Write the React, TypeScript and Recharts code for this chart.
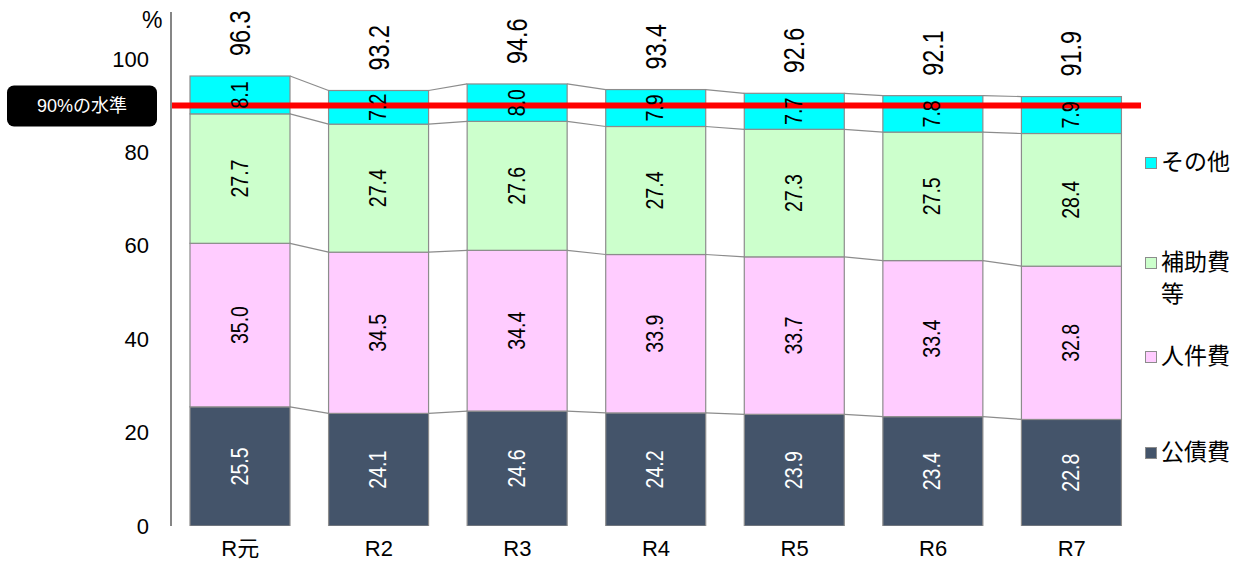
import React from "react";
import {
  BarChart,
  Bar,
  XAxis,
  YAxis,
  ReferenceLine,
  LabelList,
} from "recharts";

const categories = ["R元", "R2", "R3", "R4", "R5", "R6", "R7"];
const kousaihi = [25.5, 24.1, 24.6, 24.2, 23.9, 23.4, 22.8];
const jinkenhi = [35.0, 34.5, 34.4, 33.9, 33.7, 33.4, 32.8];
const hojohi = [27.7, 27.4, 27.6, 27.4, 27.3, 27.5, 28.4];
const sonota = [8.1, 7.2, 8.0, 7.9, 7.7, 7.8, 7.9];
const totals = [96.3, 93.2, 94.6, 93.4, 92.6, 92.1, 91.9];
const yTicks = [0, 20, 40, 60, 80, 100];
const threshold = 90;
const thresholdLabel = "90%の水準";

const series = [
  { key: "kousaihi", name: "公債費", values: kousaihi, fill: "#44546A", text: "#ffffff" },
  { key: "jinkenhi", name: "人件費", values: jinkenhi, fill: "#FFCCFF", text: "#000000" },
  { key: "hojohi", name: "補助費等", values: hojohi, fill: "#CCFFCC", text: "#000000" },
  { key: "sonota", name: "その他", values: sonota, fill: "#00FFFF", text: "#000000" },
];

const data = categories.map((c, i) => {
  const row: Record<string, string | number> = { cat: c };
  series.forEach((s) => (row[s.key] = s.values[i]));
  return row;
});

const W = 1251;
const H = 566;
const M = { top: 12, right: 110, bottom: 10, left: 111 };
const Y_AXIS_W = 60;
const STEP = (W - M.left - M.right - Y_AXIS_W) / categories.length;
const FONT = "'Liberation Sans', Arial, 'Noto Sans CJK JP', sans-serif";
const BORDER = "#8c8c8c";

// bar with a connector ("series line") to the next bar's segment top
const makeShape = (si: number) => (props: any) => {
  const { x, y, width, height, index, fill } = props;
  const vals = series[si].values;
  const below = series.slice(0, si).reduce((a, s) => a + s.values[index], 0);
  const pxPer = height / vals[index];
  const bottom = y + height;
  let connector = null;
  if (index < categories.length - 1) {
    const nextTop = series.slice(0, si + 1).reduce((a, s) => a + s.values[index + 1], 0);
    const ny = bottom - (nextTop - below) * pxPer;
    connector = (
      <line x1={x + width} y1={y} x2={x + STEP} y2={ny} stroke={BORDER} strokeWidth={1.2} />
    );
  }
  return (
    <g>
      <rect x={x} y={y} width={width} height={height} fill={fill} stroke={BORDER} strokeWidth={1.2} />
      {connector}
    </g>
  );
};

const segLabel = (si: number) => (p: any) => {
  const { x, y, width, height, index } = p;
  const cx = x + width / 2;
  const cy = y + height / 2;
  return (
    <text
      transform={`translate(${cx},${cy}) rotate(-90) scale(0.85,1)`}
      textAnchor="middle"
      dominantBaseline="central"
      fontSize={23}
      fill={series[si].text}
      fontFamily={FONT}
    >
      {series[si].values[index].toFixed(1)}
    </text>
  );
};

const totalLabel = (p: any) => {
  const { x, y, width, index } = p;
  const cx = x + width / 2;
  return (
    <text
      transform={`translate(${cx},${y - 20}) rotate(-90) scale(0.78,1)`}
      textAnchor="start"
      dominantBaseline="central"
      fontSize={30}
      fill="#000"
      fontFamily={FONT}
    >
      {totals[index].toFixed(1)}
    </text>
  );
};

const ThresholdLabel = (p: any) => {
  const vb = p.viewBox || {};
  const bx = vb.x - 164;
  const by = vb.y - 20;
  return (
    <g>
      <rect x={bx} y={by} width={150} height={41} rx={7} fill="#000" />
      <text x={bx + 75} y={by + 21} textAnchor="middle" dominantBaseline="central" fontSize={18} fill="#fff" fontFamily={FONT}>
        {thresholdLabel}
      </text>
    </g>
  );
};

const legendGaps = [0, 68, 30, 64];

const LegendBox = () => (
  <div style={{ position: "absolute", left: 1145, top: 146, width: 106, fontSize: 23, color: "#000" }}>
    {[...series].reverse().map((s, i) => (
      <div key={s.key} style={{ display: "flex", alignItems: "flex-start", marginTop: legendGaps[i] }}>
        <span
          style={{
            display: "inline-block",
            width: 10,
            height: 10,
            background: s.fill,
            border: `1px solid ${BORDER}`,
            marginTop: 11,
            marginRight: 4,
            flexShrink: 0,
          }}
        />
        <span style={{ width: 80, lineHeight: "32px" }}>{s.name}</span>
      </div>
    ))}
  </div>
);

export default function App() {
  return (
    <div style={{ position: "absolute", left: 0, top: 0, width: W, height: H, fontFamily: FONT, background: "#fff" }}>
      <div style={{ position: "absolute", left: 142, top: 7, fontSize: 23, color: "#000" }}>%</div>
      <BarChart width={W} height={H} data={data} margin={M} barSize={100} style={{ fontFamily: FONT }}>
        <XAxis
          dataKey="cat"
          axisLine={false}
          tickLine={false}
          tickSize={0}
          tickMargin={14}
          height={30}
          tick={{ fontSize: 22, fill: "#000" }}
        />
        <YAxis
          width={Y_AXIS_W}
          domain={[0, 110]}
          ticks={yTicks}
          tickLine={false}
          tickSize={0}
          tickMargin={22}
          axisLine={{ stroke: "#868686", strokeWidth: 2 }}
          tick={{ fontSize: 22, fill: "#000" }}
          allowDataOverflow
        />
        {series.map((s, si) => (
          <Bar
            key={s.key}
            dataKey={s.key}
            name={s.name}
            stackId="a"
            fill={s.fill}
            isAnimationActive={false}
            shape={makeShape(si)}
          >
            <LabelList dataKey={s.key} content={segLabel(si)} />
            {si === series.length - 1 && <LabelList dataKey={s.key} content={totalLabel} />}
          </Bar>
        ))}
        <ReferenceLine y={threshold} stroke="#FF0000" strokeWidth={6} label={<ThresholdLabel />} />
      </BarChart>
      <LegendBox />
    </div>
  );
}
